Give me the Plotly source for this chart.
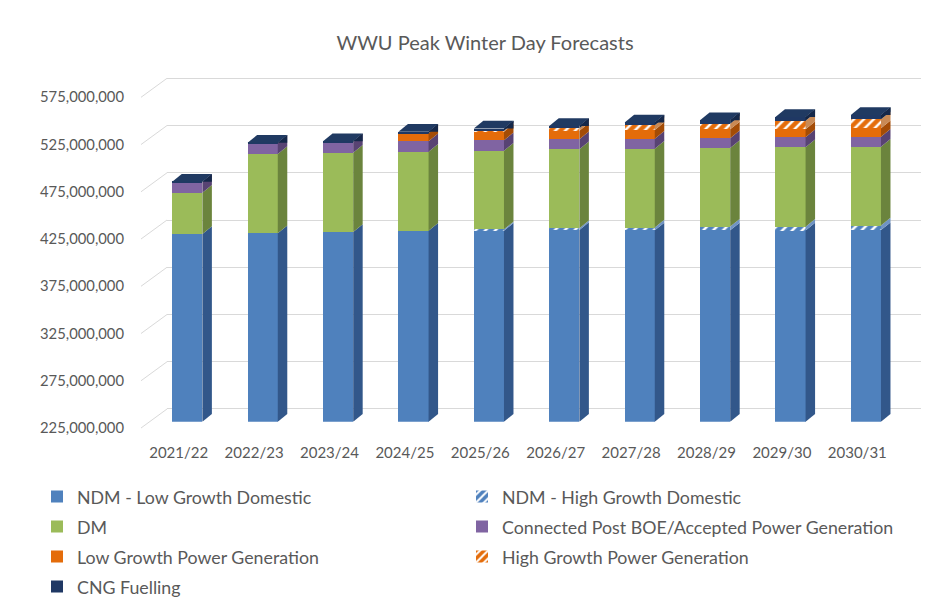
import plotly.graph_objects as go

# ---------------- data (millions) ----------------
years = ["2021/22", "2022/23", "2023/24", "2024/25", "2025/26",
         "2026/27", "2027/28", "2028/29", "2029/30", "2030/31"]
ndm_low = [423.6, 424.4, 425.8, 427.1, 427.1, 427.9, 427.5, 427.5, 427.3, 427.8]
ndm_high = [0, 0, 0, 0, 1.5, 1.8, 3.0, 4.0, 4.1, 4.8]
dm = [43.8, 83.9, 83.9, 83.6, 83.2, 83.6, 83.4, 83.2, 84.0, 83.4]
boe = [11.0, 11.3, 11.0, 11.1, 11.0, 10.6, 10.6, 10.4, 10.6, 10.6]
low_pg = [0, 0, 0, 8.4, 9.1, 9.1, 9.2, 9.3, 8.5, 8.9]
high_pg = [0, 0, 0, 0, 1.1, 2.5, 5.0, 6.0, 9.1, 9.5]
cng = [0.5, 0.6, 1.2, 1.6, 2.3, 2.4, 3.0, 3.6, 3.9, 4.6]
UNIT = 1e6
tick_values = [225, 275, 325, 375, 425, 475, 525, 575]

# name, values, front colour, side colour, pattern
series = [
    ("NDM - Low Growth Domestic", ndm_low, "#4F81BD", "#32578A", None),
    ("NDM - High Growth Domestic", ndm_high, "#4F81BD", "#6F93C4", "/"),
    ("DM", dm, "#9BBB59", "#6B843D", None),
    ("Connected Post BOE/Accepted Power Generation", boe, "#8064A2", "#584373", None),
    ("Low Growth Power Generation", low_pg, "#E46C0A", "#A44C06", None),
    ("High Growth Power Generation", high_pg, "#E46C0A", "#C98A55", "/"),
    ("CNG Fuelling", cng, "#1F3864", "#142645", None),
]

# ---------------- geometry (screen pixels) ----------------
OFF = 8                      # page body margin
W, H = 944 - OFF, 604 - OFF  # figure size
PX_PER_M = 330.7 / 350.0
DEPTH_X, DEPTH_Y = 9.5, 7.7
GRAY = "#595959"
FONT = "Lato"

def px(x):
    return (x - OFF) / W

def py(y):
    return 1 - (y - OFF) / H

def ydom(base_px, lo, hi):
    bottom = base_px - (lo - 225) * PX_PER_M
    top = base_px - (hi - 225) * PX_PER_M
    return [py(bottom), py(top)]

front_x = (141, 895)
back_x = (167, 921)
bar_x = (149.6, 903.6)
front_base, back_base, bar_base = 428.0, 409.0, 421.7

# legend slots: two columns, four rows (text start x, row centre y)
legend_cols = [77, 502]
legend_rows = [497, 527, 557, 587]

fig = go.Figure()

layout_legends = {}
for k, (name, vals, col, side, pat) in enumerate(series):
    marker = dict(color=col, line=dict(width=0))
    if pat:
        marker["pattern"] = dict(shape=pat, fgcolor="white", bgcolor=col,
                                 size=7, solidity=0.35, fillmode="replace")
    lg = "legend" if k == 0 else f"legend{k + 1}"
    fig.add_trace(go.Bar(
        x=list(range(len(years))), y=[v * UNIT for v in vals], name=name,
        marker=marker, width=0.4, xaxis="x3", yaxis="y3", legend=lg,
        hovertemplate="%{y:,.0f}<extra>" + name + "</extra>"))
    layout_legends[lg] = dict(
        orientation="h", font=dict(family=FONT, size=17.8, color=GRAY),
        bgcolor="rgba(0,0,0,0)", xanchor="left", yanchor="middle",
        xref="container", yref="container",
        x=px(legend_cols[k % 2] - 40), y=py(legend_rows[k // 2]),
        itemclick=False, itemdoubleclick=False)

fig.add_trace(go.Scatter(x=[None], y=[None], xaxis="x", yaxis="y", showlegend=False, hoverinfo="skip"))
fig.add_trace(go.Scatter(x=[None], y=[None], xaxis="x2", yaxis="y2", showlegend=False, hoverinfo="skip"))

# 3D side / top faces derived from the stacked values
unit_px_x = (bar_x[1] - bar_x[0]) / len(years)
dx = DEPTH_X / unit_px_x
dy = DEPTH_Y / PX_PER_M * UNIT
hw = 0.2
ymin = 225 * UNIT
shapes = []
cum = [0.0] * len(years)
for name, vals, col, side, pat in series:
    for i, v in enumerate(vals):
        y0 = cum[i] * UNIT
        y1 = (cum[i] + v) * UNIT
        cum[i] += v
        if v <= 0 or y1 <= ymin:
            continue
        y0 = max(y0, ymin)
        xr = i + hw
        path = f"M{xr},{y0} L{xr+dx},{y0+dy} L{xr+dx},{y1+dy} L{xr},{y1} Z"
        shapes.append(dict(type="path", path=path, xref="x3", yref="y3",
                           fillcolor=side, line=dict(width=0), layer="above"))
for i in range(len(years)):
    top = cum[i] * UNIT
    xl, xr = i - hw, i + hw
    path = f"M{xl},{top} L{xl+dx},{top+dy} L{xr+dx},{top+dy} L{xr},{top} Z"
    shapes.append(dict(type="path", path=path, xref="x3", yref="y3",
                       fillcolor="#203A62", line=dict(width=0), layer="above"))
    shapes.append(dict(type="path",
                       path=f"M{xr},{top} L{xr+dx},{top+dy} L{xr+dx},{top} Z",
                       xref="x3", yref="y3", fillcolor="#15284A", line=dict(width=0), layer="above"))

# diagonal connectors from front axis to back wall gridlines
for t in tick_values:
    yf = front_base - (t - 225) * PX_PER_M
    yb = back_base - (t - 225) * PX_PER_M
    shapes.append(dict(type="line", xref="paper", yref="paper",
                       x0=px(front_x[0]), y0=py(yf), x1=px(back_x[0]), y1=py(yb),
                       line=dict(color="#D9D9D9", width=1), layer="below"))

# chart border
shapes.append(dict(type="rect", xref="paper", yref="paper",
                   x0=px(7.5), y0=-0.05, x1=1.05, y1=py(7.5),
                   line=dict(color="#D9D9D9", width=1), fillcolor="rgba(0,0,0,0)", layer="below"))

ticks_abs = [t * UNIT for t in tick_values]

fig.update_layout(
    width=W, height=H, margin=dict(l=0, r=0, t=0, b=0, autoexpand=False),
    paper_bgcolor="white", plot_bgcolor="rgba(0,0,0,0)",
    barmode="stack", bargap=0.6,
    font=dict(family=FONT, color=GRAY),
    title=dict(text="WWU Peak Winter Day Forecasts", x=px(485), y=py(43),
               xanchor="center", yanchor="middle", xref="container", yref="container",
               font=dict(family=FONT, size=20, color=GRAY)),
    xaxis=dict(domain=[px(front_x[0]), px(front_x[1])], range=[-0.5, 9.5], anchor="y",
               tickmode="array", tickvals=list(range(len(years))), ticktext=years,
               showgrid=False, zeroline=False, showline=False, ticks="",
               ticklabelstandoff=14, tickfont=dict(family=FONT, size=15, color=GRAY)),
    yaxis=dict(domain=ydom(front_base, 225, 575), range=[ymin, 575 * UNIT], anchor="x",
               tickmode="array", tickvals=ticks_abs, tickformat=",",
               showgrid=False, zeroline=False, showline=False, ticks="",
               ticklabelstandoff=16, tickfont=dict(family=FONT, size=14.8, color=GRAY)),
    xaxis2=dict(domain=[px(back_x[0]), px(back_x[1])], range=[-0.5, 9.5], anchor="y2",
                visible=False),
    yaxis2=dict(domain=ydom(back_base, 222, 578), range=[222 * UNIT, 578 * UNIT], anchor="x2",
                tickmode="array", tickvals=ticks_abs, showticklabels=False,
                showgrid=True, gridcolor="#D9D9D9", gridwidth=1, zeroline=False,
                showline=False, ticks=""),
    xaxis3=dict(domain=[px(bar_x[0]), px(bar_x[1])], range=[-0.5, 9.5], anchor="y3",
                visible=False),
    yaxis3=dict(domain=ydom(bar_base, 225, 575), range=[ymin, 575 * UNIT], anchor="x3",
                visible=False),
    shapes=shapes,
    showlegend=True,
    **layout_legends,
)

fig.write_html("out.html")
